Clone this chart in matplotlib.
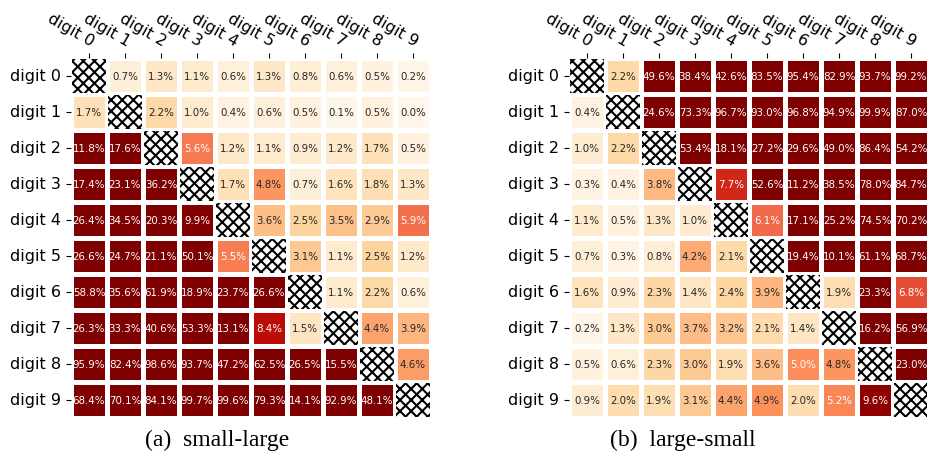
import numpy as np
import matplotlib
matplotlib.use("Agg")
import matplotlib.pyplot as plt
from matplotlib.patches import Rectangle
import seaborn as sns

plt.rcParams["font.family"] = ["DejaVu Sans"]
plt.rcParams["hatch.linewidth"] = 1.5

LABELS = [f"digit {i}" for i in range(10)]
NA = np.nan

# 성공률 (%), 행 = source digit, 열 = target digit, 대각선은 없음
small_large = [
    [NA, 0.7, 1.3, 1.1, 0.6, 1.3, 0.8, 0.6, 0.5, 0.2],
    [1.7, NA, 2.2, 1.0, 0.4, 0.6, 0.5, 0.1, 0.5, 0.0],
    [11.8, 17.6, NA, 5.6, 1.2, 1.1, 0.9, 1.2, 1.7, 0.5],
    [17.4, 23.1, 36.2, NA, 1.7, 4.8, 0.7, 1.6, 1.8, 1.3],
    [26.4, 34.5, 20.3, 9.9, NA, 3.6, 2.5, 3.5, 2.9, 5.9],
    [26.6, 24.7, 21.1, 50.1, 5.5, NA, 3.1, 1.1, 2.5, 1.2],
    [58.8, 35.6, 61.9, 18.9, 23.7, 26.6, NA, 1.1, 2.2, 0.6],
    [26.3, 33.3, 40.6, 53.3, 13.1, 8.4, 1.5, NA, 4.4, 3.9],
    [95.9, 82.4, 98.6, 93.7, 47.2, 62.5, 26.5, 15.5, NA, 4.6],
    [68.4, 70.1, 84.1, 99.7, 99.6, 79.3, 14.1, 92.9, 48.1, NA],
]
large_small = [
    [NA, 2.2, 49.6, 38.4, 42.6, 83.5, 95.4, 82.9, 93.7, 99.2],
    [0.4, NA, 24.6, 73.3, 96.7, 93.0, 96.8, 94.9, 99.9, 87.0],
    [1.0, 2.2, NA, 53.4, 18.1, 27.2, 29.6, 49.0, 86.4, 54.2],
    [0.3, 0.4, 3.8, NA, 7.7, 52.6, 11.2, 38.5, 78.0, 84.7],
    [1.1, 0.5, 1.3, 1.0, NA, 6.1, 17.1, 25.2, 74.5, 70.2],
    [0.7, 0.3, 0.8, 4.2, 2.1, NA, 19.4, 10.1, 61.1, 68.7],
    [1.6, 0.9, 2.3, 1.4, 2.4, 3.9, NA, 1.9, 23.3, 6.8],
    [0.2, 1.3, 3.0, 3.7, 3.2, 2.1, 1.4, NA, 16.2, 56.9],
    [0.5, 0.6, 2.3, 3.0, 1.9, 3.6, 5.0, 4.8, NA, 23.0],
    [0.9, 2.0, 1.9, 3.1, 4.4, 4.9, 2.0, 5.2, 9.6, NA],
]
CAPTIONS = ["(a)  small-large", "(b)  large-small"]

W, H = 927, 452
fig = plt.figure(figsize=(W / 100, H / 100), dpi=100)


def draw(ax, mat):
    m = np.array(mat) / 100.0
    sns.heatmap(m, ax=ax, cmap="OrRd", vmin=0, vmax=0.1, annot=True, fmt=".1%",
                annot_kws={"size": 7.4}, cbar=False, linewidths=2.2,
                linecolor="white", square=True,
                xticklabels=LABELS, yticklabels=LABELS)
    # 대각선 칸은 빗금
    for i in range(len(mat)):
        ax.add_patch(Rectangle((i + 0.04, i + 0.04), 0.92, 0.92, facecolor="white",
                               edgecolor="black", lw=0, hatch="xxx"))
    ax.xaxis.tick_top()
    ax.tick_params(labelsize=11.5)
    plt.setp(ax.get_xticklabels(), rotation=-30, ha="right", rotation_mode="anchor")
    plt.setp(ax.get_yticklabels(), rotation=0)


for left, mat, cap, cx in [(71, small_large, CAPTIONS[0], 217),
                           (569, large_small, CAPTIONS[1], 683)]:
    ax = fig.add_axes([left / W, 33 / H, 360 / W, 360 / H])
    draw(ax, mat)
    fig.text(cx / W, 6 / H, cap, ha="center", va="baseline",
             family="Liberation Serif", fontsize=17)

fig.savefig("out.png", dpi=100)
